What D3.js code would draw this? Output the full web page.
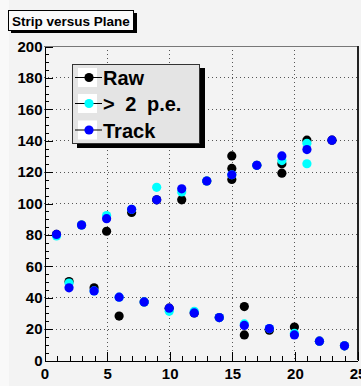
<!DOCTYPE html>
<html>
<head>
<meta charset="utf-8">
<script src="https://cdn.jsdelivr.net/npm/d3@7"></script>
<style>
  html, body { margin: 0; padding: 0; background: #f3f3f3; }
  svg { display: block; font-family: "Liberation Sans", Arial, sans-serif; }
  .axis text { font-size: 15px; font-weight: bold; fill: #000; }
  .axis path, .axis line { stroke: #000; shape-rendering: crispEdges; }
</style>
</head>
<body>
<div id="chart"></div>
<script>
// ── Data: plane number vs strip, three hit selections ─────────────────────
const rawX  = [1, 2, 3, 4, 5, 6, 7, 8, 9, 10, 11, 12, 13, 14, 15, 15, 15, 16, 16, 17, 18, 19, 19, 20, 21, 22, 23, 24];
const rawY  = [80, 50, 86, 46, 82, 28, 94, 37, 102, 33, 102, 30, 114, 27, 130, 122, 115, 34, 16, 124, 19, 125, 119, 21, 140, 12, 140, 9];

const pe2X  = [1, 2, 3, 4, 5, 6, 7, 8, 9, 10, 11, 12, 13, 14, 15, 16, 17, 18, 19, 20, 21, 21, 22, 24];
const pe2Y  = [79, 49, 86, 44, 92, 40, 96, 37, 110, 31, 107, 31, 114, 27, 118, 23, 124, 20, 127, 17, 138, 125, 12, 9];

const trkX  = [1, 2, 3, 4, 5, 6, 7, 8, 9, 10, 11, 12, 13, 14, 15, 16, 17, 18, 19, 20, 21, 22, 23, 24];
const trkY  = [80, 46, 86, 44, 90, 40, 96, 37, 102, 33, 109, 30, 114, 27, 118, 22, 124, 20, 130, 16, 134, 12, 140, 9];

const seriesNames  = ['Raw', '> 2 p.e.', 'Track'];
const seriesColors = ['#000000', '#00ffff', '#0000ff'];

const xMajor = [0, 5, 10, 15, 20, 25];
const yMajor = [0, 20, 40, 60, 80, 100, 120, 140, 160, 180, 200];

const W = 361, H = 386;
const frame = { left: 44, right: 357, top: 46, bottom: 360 };

const svg = d3.select('#chart').append('svg')
  .attr('width', W).attr('height', H);

// canvas
svg.append('rect').attr('width', W).attr('height', H).attr('fill', '#f3f3f3');
svg.append('rect').attr('width', 9).attr('height', H).attr('fill', '#f9f9f9');

const x = d3.scaleLinear().domain([0, 25]).range([frame.left, frame.right]);
const y = d3.scaleLinear().domain([0, 200]).range([frame.bottom, frame.top]);

// ── Grid (dotted) ──────────────────────────────────────────────────────
const grid = svg.append('g')
  .attr('stroke', '#555').attr('stroke-width', 1).attr('stroke-dasharray', '1,3')
  .attr('shape-rendering', 'crispEdges');

grid.selectAll('.gx').data(xMajor.slice(1, -1)).join('line')
  .attr('x1', d => Math.round(x(d)) + 0.5).attr('x2', d => Math.round(x(d)) + 0.5)
  .attr('y1', frame.top).attr('y2', frame.bottom);

grid.selectAll('.gy').data(yMajor.slice(1, -1)).join('line')
  .attr('y1', d => Math.round(y(d)) + 0.5).attr('y2', d => Math.round(y(d)) + 0.5)
  .attr('x1', frame.left).attr('x2', frame.right);

// ── Frame: top thin, right dark ───────────────────────────────────────
svg.append('line')
  .attr('x1', frame.left).attr('x2', frame.right)
  .attr('y1', frame.top + 0.5).attr('y2', frame.top + 0.5)
  .attr('stroke', '#777');
svg.append('line')
  .attr('x1', frame.right + 1).attr('x2', frame.right + 1)
  .attr('y1', frame.top).attr('y2', frame.bottom)
  .attr('stroke', '#222').attr('stroke-width', 2);

// ── Axes (ticks pointing inward) ───────────────────────────────────────
const xMinorG = svg.append('g').attr('class', 'axis')
  .attr('transform', `translate(0.5, ${frame.bottom + 0.5})`)
  .call(d3.axisBottom(x).tickValues(d3.range(0, 26, 1)).tickSize(-5).tickSizeOuter(0).tickFormat(''));
xMinorG.select('.domain').remove();

svg.append('g').attr('class', 'axis')
  .attr('transform', `translate(0.5, ${frame.bottom + 0.5})`)
  .call(d3.axisBottom(x).tickValues(xMajor).tickSize(-9).tickSizeOuter(0).tickPadding(8).tickFormat(d3.format('d')));

const yMinorG = svg.append('g').attr('class', 'axis')
  .attr('transform', `translate(${frame.left + 0.5}, 0.5)`)
  .call(d3.axisLeft(y).tickValues(d3.range(0, 201, 5)).tickSize(-4).tickSizeOuter(0).tickFormat(''));
yMinorG.select('.domain').remove();

svg.append('g').attr('class', 'axis')
  .attr('transform', `translate(${frame.left + 0.5}, 0.5)`)
  .call(d3.axisLeft(y).tickValues(yMajor).tickSize(-8).tickSizeOuter(0).tickPadding(2).tickFormat(d3.format('d')));

// ── Markers ────────────────────────────────────────────────────────────
const series = [
  { xs: rawX, ys: rawY },
  { xs: pe2X, ys: pe2Y },
  { xs: trkX, ys: trkY },
];

series.forEach((s, si) => {
  svg.append('g').selectAll('circle')
    .data(s.xs.map((v, i) => [v, s.ys[i]]))
    .join('circle')
    .attr('cx', d => x(d[0]))
    .attr('cy', d => y(d[1]))
    .attr('r', 4.6)
    .attr('fill', seriesColors[si]);
});

// ── Legend ─────────────────────────────────────────────────────────────
const leg = svg.append('g');
leg.append('rect').attr('x', 77).attr('y', 68).attr('width', 128).attr('height', 80).attr('fill', '#000');
leg.append('rect').attr('x', 72.5).attr('y', 64.5).attr('width', 127).attr('height', 79)
  .attr('fill', '#e4e4e4').attr('stroke', '#333');

const rowY = [77.5, 103.5, 130];
seriesNames.forEach((name, i) => {
  const cy = rowY[i];
  leg.append('rect').attr('x', 78).attr('y', cy - 9.5).attr('width', 19).attr('height', 19).attr('fill', '#fff');
  leg.append('line').attr('x1', 75).attr('x2', 102).attr('y1', cy).attr('y2', cy)
    .attr('stroke', '#000').attr('stroke-width', 1);
  leg.append('circle').attr('cx', 89).attr('cy', cy).attr('r', 4.6).attr('fill', seriesColors[i]);
  leg.append('text').attr('x', 103).attr('y', cy + 7.5)
    .attr('font-size', 20).attr('font-weight', 'bold')
    .attr('word-spacing', 5)
    .text(name);
});

// ── Title box ──────────────────────────────────────────────────────────
const tg = svg.append('g');
tg.append('rect').attr('x', 11).attr('y', 13).attr('width', 126).attr('height', 20).attr('fill', '#000');
tg.append('rect').attr('x', 8.5).attr('y', 10.5).attr('width', 125).attr('height', 20)
  .attr('fill', '#fafafa').attr('stroke', '#000');
tg.append('text').attr('x', 12).attr('y', 26)
  .attr('font-size', 13.5).attr('font-weight', 'bold')
  .text('Strip versus Plane');
</script>
</body>
</html>
